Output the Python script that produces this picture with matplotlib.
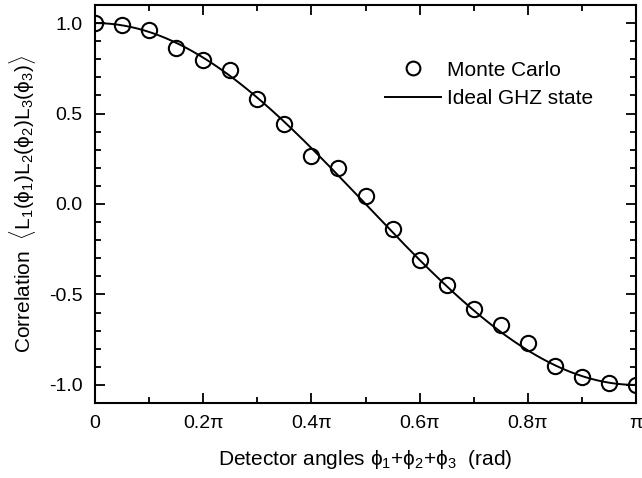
import numpy as np
import matplotlib
matplotlib.use("Agg")
import matplotlib.pyplot as plt
from matplotlib.ticker import MultipleLocator, FixedLocator

plt.rcParams['font.family'] = ['Liberation Sans', 'DejaVu Sans']
plt.rcParams['mathtext.fontset'] = 'custom'
plt.rcParams['mathtext.rm'] = 'Liberation Sans'
plt.rcParams['mathtext.it'] = 'Liberation Sans:italic'
plt.rcParams['mathtext.bf'] = 'Liberation Sans:bold'

# Monte Carlo data: x in units of pi
mc_x_pi = [0.0, 0.05, 0.1, 0.15, 0.2, 0.25, 0.3, 0.35, 0.4, 0.45, 0.5,
           0.55, 0.6, 0.65, 0.7, 0.75, 0.8, 0.85, 0.9, 0.95, 1.0]
mc_y = [1.0, 0.99, 0.961, 0.865, 0.796, 0.739, 0.578, 0.443, 0.265, 0.198, 0.046,
        -0.139, -0.309, -0.45, -0.583, -0.667, -0.769, -0.894, -0.957, -0.991, -1.0]

xtick_pos_pi = [0, 0.2, 0.4, 0.6, 0.8, 1.0]
xtick_labels = ['0', '0.2π', '0.4π', '0.6π', '0.8π', 'π']
ytick_pos = [-1.0, -0.5, 0.0, 0.5, 1.0]
ytick_labels = ['-1.0', '-0.5', '0.0', '0.5', '1.0']

FS = 14
LFS = 15
PHI = '\u03d5'

fig = plt.figure(figsize=(6.42, 4.78), dpi=100)
ax = fig.add_axes([95/642, 1 - 403/478, (636-95)/642, (403-5)/478])

xs = np.linspace(0, np.pi, 400)
ax.plot(xs, np.cos(xs), color='black', lw=1.4, label='Ideal GHZ state', zorder=2)
ax.plot(np.array(mc_x_pi) * np.pi, mc_y, linestyle='none', marker='o', ms=11,
        mfc='none', mec='black', mew=1.5, label='Monte Carlo', zorder=3)

ax.set_xlim(0, np.pi)
ax.set_ylim(-1.1, 1.1)
ax.xaxis.set_major_locator(FixedLocator(np.array(xtick_pos_pi) * np.pi))
ax.set_xticklabels(xtick_labels)
ax.xaxis.set_minor_locator(MultipleLocator(0.1 * np.pi))
ax.yaxis.set_minor_locator(MultipleLocator(0.1))
ax.set_yticks(ytick_pos)
ax.set_yticklabels(ytick_labels)

ax.tick_params(which='both', direction='in', top=True, right=True, labelsize=FS, width=1.3)
ax.tick_params(which='major', length=7, pad=9)
ax.tick_params(which='minor', length=4)
for s in ax.spines.values():
    s.set_linewidth(1.5)

ax.set_xlabel('Detector angles ' + PHI + '$_1$+' + PHI + '$_2$+' + PHI + '$_3$  (rad)',
              fontsize=LFS, labelpad=11)
ax.set_ylabel('Correlation  $\\langle$L$_1$(' + PHI + '$_1$)L$_2$(' + PHI + '$_2$)L$_3$(' + PHI + '$_3$)$\\rangle$',
              fontsize=LFS, labelpad=8)

h, l = ax.get_legend_handles_labels()
ax.legend([h[1], h[0]], [l[1], l[0]], loc='upper left', bbox_to_anchor=(0.502, 0.907),
          frameon=False, fontsize=LFS, handlelength=2.65, handletextpad=0.3,
          labelspacing=0.45, markerscale=0.9)

fig.savefig('out.png', dpi=100)
